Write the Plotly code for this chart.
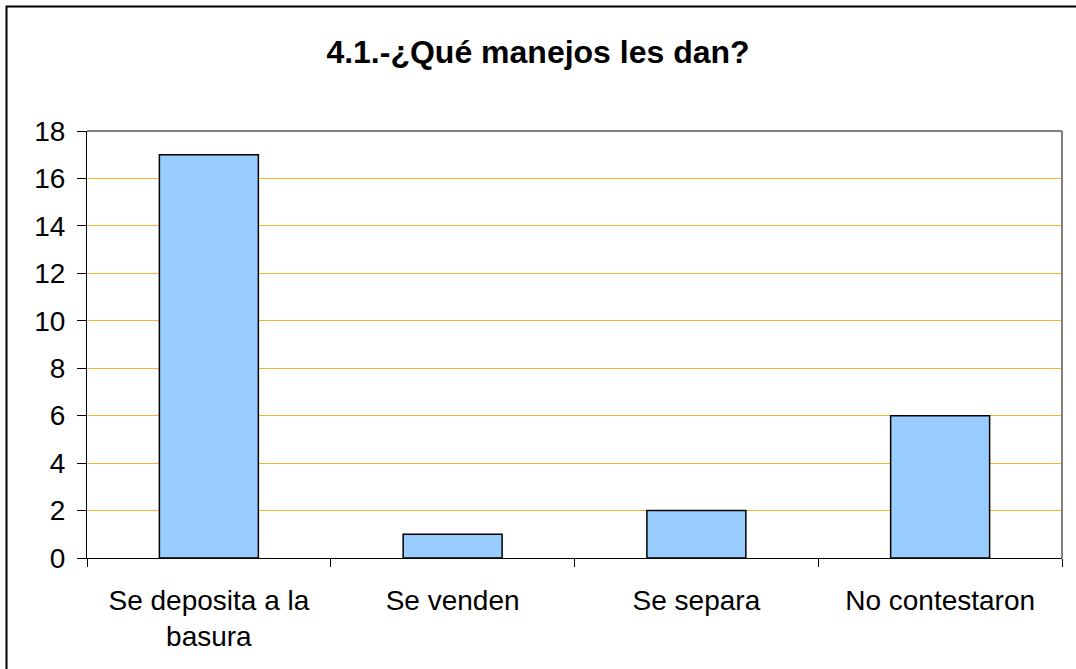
import plotly.graph_objects as go

categories = ["Se deposita a la<br>basura", "Se venden", "Se separa", "No contestaron"]
values = [17, 1, 2, 6]
y_ticks = [0, 2, 4, 6, 8, 10, 12, 14, 16, 18]
title_text = "4.1.-¿Qué manejos les dan?"

W, H = 1076, 669
L, R, T, B = 87, 14, 131, 111
FONT = "Liberation Sans, Arial, sans-serif"

fig = go.Figure(go.Bar(
    x=categories, y=values,
    marker=dict(color="#99CCFF", line=dict(color="#000000", width=1.5)),
    hoverinfo="skip",
))

fig.update_layout(
    width=W, height=H,
    margin=dict(l=L, r=R, t=T, b=B),
    paper_bgcolor="white", plot_bgcolor="white",
    font=dict(family=FONT, color="#000000", size=28),
    title=dict(text="<b>" + title_text + "</b>", x=0.5, xanchor="center",
               y=1 - 52 / H, yanchor="middle",
               font=dict(size=32, family=FONT, color="#000000")),
    bargap=0.594,
    showlegend=False,
)

fig.update_xaxes(
    showline=True, linecolor="#000000", linewidth=1.2,
    ticks="outside", ticklen=8, tickcolor="#000000", tickwidth=1,
    tickson="boundaries", showgrid=False,
    ticklabelstandoff=17,
    tickfont=dict(size=28, family=FONT, color="#000000"),
)
fig.update_yaxes(
    range=[0, 18], tickvals=y_ticks,
    showline=True, linecolor="#000000", linewidth=1.2,
    ticks="outside", ticklen=9, tickcolor="#000000", tickwidth=1,
    showgrid=True, gridcolor="#FFB030", gridwidth=1,
    ticklabelstandoff=6,
    zeroline=False, tickfont=dict(size=28, family=FONT, color="#000000"),
)

# plot-area frame (top and right, gray)
fig.add_shape(type="line", xref="paper", yref="paper", x0=0, x1=1, y0=1, y1=1,
              line=dict(color="#808080", width=2))
fig.add_shape(type="line", xref="paper", yref="paper", x0=1, x1=1, y0=0, y1=1,
              line=dict(color="#808080", width=2))
# outer chart border
fig.add_shape(type="rect", xref="paper", yref="paper",
              x0=(6.5 - L) / (W - L - R), x1=(W + 10 - L) / (W - L - R),
              y0=-(H + 10 - (H - B)) / (H - T - B), y1=1 + (T - 6.5) / (H - T - B),
              line=dict(color="#000000", width=2), fillcolor="rgba(0,0,0,0)")

fig.write_html("out.html", config={"displayModeBar": False},
               post_script="document.body.style.margin='0px';document.body.style.padding='0px';")
